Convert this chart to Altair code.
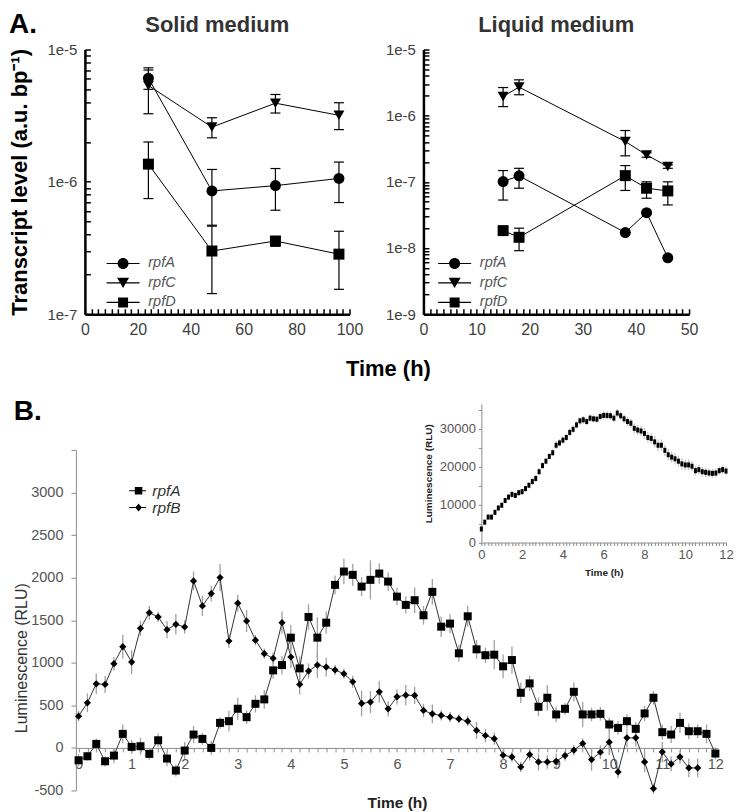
import math
import altair as alt
import pandas as pd

FONT = "Liberation Sans"

# ---------------- Panel A data (transcript levels) ----------------
genes_A = ["rpfA", "rpfC", "rpfD"]

solid_time = [24, 48, 72, 96]
solid_rpfA = [6.07e-6, 8.53e-7, 9.36e-7, 1.06e-6]
solid_rpfA_lo = [5.0e-6, 4.7e-7, 6.1e-7, 6.97e-7]
solid_rpfA_hi = [7.27e-6, 1.24e-6, 1.26e-6, 1.41e-6]
solid_rpfC = [5.35e-6, 2.59e-6, 3.93e-6, 3.18e-6]
solid_rpfC_lo = [3.27e-6, 2.15e-6, 3.31e-6, 2.48e-6]
solid_rpfC_hi = [7.0e-6, 3.05e-6, 4.57e-6, 3.96e-6]
solid_rpfD = [1.36e-6, 3.0e-7, 3.57e-7, 2.84e-7]
solid_rpfD_lo = [7.47e-7, 1.43e-7, 3.26e-7, 1.54e-7]
solid_rpfD_hi = [2.0e-6, 4.62e-7, 3.8e-7, 4.23e-7]

liquid_time = [15, 18, 38, 42, 46]
liquid_rpfA = [1.01e-7, 1.23e-7, 1.71e-8, 3.42e-8, 7.1e-9]
liquid_rpfA_lo = [5.3e-8, 8.0e-8, 1.71e-8, 3.42e-8, 7.1e-9]
liquid_rpfA_hi = [1.48e-7, 1.6e-7, 1.71e-8, 3.42e-8, 7.1e-9]
liquid_rpfC = [1.95e-6, 2.7e-6, 4.06e-7, 2.55e-7, 1.7e-7]
liquid_rpfC_lo = [1.37e-6, 2.07e-6, 2.47e-7, 2.35e-7, 1.6e-7]
liquid_rpfC_hi = [2.66e-6, 3.48e-6, 5.96e-7, 2.75e-7, 1.8e-7]
liquid_rpfD = [1.83e-8, 1.45e-8, 1.24e-7, 8.0e-8, 7.28e-8]
liquid_rpfD_lo = [1.7e-8, 9.1e-9, 7.4e-8, 5.65e-8, 4.47e-8]
liquid_rpfD_hi = [1.95e-8, 1.99e-8, 1.76e-7, 1.0e-7, 1.0e-7]

solid_ticks = [0, 20, 40, 60, 80, 100]
liquid_ticks = [0, 10, 20, 30, 40, 50]

# ---------------- Panel B data (luminescence) ----------------
time_B = [i / 6 for i in range(73)]
lum_rpfA = [-145, -98, 47, -157, -90, 165, 12, 20, -70, 90, -125, -266, -31, 157, 106, 0, 294, 314, 460, 361, 518,
            570, 911, 973, 1295, 934, 1538, 1295, 1471, 1915, 2072, 2033, 1895, 1974, 2048, 1954, 1777, 1680, 1735,
            1558, 1833, 1424, 1460, 1111, 1546, 1158, 1089, 1095,
            958, 1032, 647, 758, 483, 589, 393, 459, 659, 393, 393, 400, 275, 235, 314, 224, 405, 589, 185, 157, 294,
            196, 196, 165, -66]
err_rpfA = [70, 50, 60, 60, 90, 110, 80, 100, 70, 80, 90, 70, 100, 100, 70, 80, 70, 120, 130, 80, 100,
            110, 100, 110, 150, 140, 150, 240, 130, 110, 150, 130, 110, 230, 120, 110, 100, 100, 150, 110, 150, 120,
            110, 100, 120, 110, 90, 170,
            140, 160, 120, 90, 110, 150, 90, 70, 110, 150, 80, 80, 80, 80, 80, 80, 90, 80, 90, 100, 120, 90, 80, 110, 70]
lum_rpfB = [373, 530, 753, 746, 989, 1189, 1008, 1405, 1589, 1538, 1389, 1452, 1420, 1962, 1668, 1813, 2001, 1256,
            1700, 1491, 1266,
            1107, 1052, 1471, 1068, 746, 903, 973, 950, 915, 871, 777, 522, 538, 659, 459, 600, 620, 617, 440, 400,
            381, 361, 341, 314, 205, 146, 108,
            -86, -106, -224, -78, -165, -165, -157, -90, -27, 51, -137, -51, 67, -282, 118, 118, -165, -478, -47,
            -188, -106, -235, -235]
err_rpfB = [60, 110, 120, 100, 80, 140, 140, 90, 80, 60, 100, 120, 80, 110, 120, 90, 160, 80, 100, 130, 60,
            60, 70, 130, 130, 120, 90, 150, 110, 60, 60, 70, 150, 130, 130, 90, 90, 120, 100, 80, 110, 60, 60, 50,
            60, 100, 80, 70,
            60, 60, 60, 70, 100, 80, 90, 60, 60, 60, 130, 80, 150, 70, 110, 100, 120, 60, 120, 90, 80, 110, 110]

inset_lum = [3570, 5360, 6700, 6700, 7950, 9100, 9820, 11070, 11970, 12680,
             12410, 13130, 13400, 14200, 15090, 16070, 16880, 18660, 20270, 21430,
             22680, 23660, 25630, 26250, 26970, 27680, 29020, 29830, 30990, 32060,
             32330, 31880, 32770, 32600, 32500, 33220, 33490, 33490, 33400, 32770,
             34110, 33400, 32600, 31880, 31430, 30090, 29650, 29380, 28750, 27680,
             27420, 26520, 25630, 25630, 24290, 23130, 22500, 22060, 21430, 20720,
             20450, 20450, 20090, 18930, 19200, 18660, 18490, 18310, 18220, 18310,
             18930, 19200, 18840]
inset_err = ([500, 600, 600, 600, 700, 700, 700, 700, 800, 800,
              800, 800, 800, 800, 800, 900, 900, 900, 900, 900, 900, 900]
             + [1000] * 14 + [1100] * 6 + [1200] * 3 + [1300] * 3 + [1400] * 3 + [1500] * 9
             + [1400] * 3 + [1300] * 3 + [1200] * 4 + [1100] * 3)


def a_frame(times, series):
    rows = []
    for gene, (vals, los, his) in series.items():
        for t, v, lo, hi in zip(times, vals, los, his):
            rows.append({"time": t, "gene": gene, "val": v, "lo": lo, "hi": hi})
    return pd.DataFrame(rows)


df_solid = a_frame(solid_time, {"rpfA": (solid_rpfA, solid_rpfA_lo, solid_rpfA_hi),
                                "rpfC": (solid_rpfC, solid_rpfC_lo, solid_rpfC_hi),
                                "rpfD": (solid_rpfD, solid_rpfD_lo, solid_rpfD_hi)})
df_liquid = a_frame(liquid_time, {"rpfA": (liquid_rpfA, liquid_rpfA_lo, liquid_rpfA_hi),
                                  "rpfC": (liquid_rpfC, liquid_rpfC_lo, liquid_rpfC_hi),
                                  "rpfD": (liquid_rpfD, liquid_rpfD_lo, liquid_rpfD_hi)})

rows_B = []
for t, v, e in zip(time_B, lum_rpfA, err_rpfA):
    rows_B.append({"time": t, "gene": "rpfA", "val": v, "err": e})
for t, v, e in zip(time_B, lum_rpfB, err_rpfB):
    rows_B.append({"time": t, "gene": "rpfB", "val": v, "err": e})
df_B = pd.DataFrame(rows_B)
df_inset = pd.DataFrame({"time": time_B, "val": inset_lum, "err": inset_err})

# legend symbols: a short line with the marker on it (custom SVG paths)
LINE_A = "M-2.36,-0.08H2.36V0.08H-2.36Z"
CIRC_A = "M0.786,0A0.786,0.786 0 1,1 -0.786,0A0.786,0.786 0 1,1 0.786,0Z"
TRI_A = "M-0.857,-0.743L0.857,-0.743L0,0.743Z"
SQ_A = "M-0.714,-0.714H0.714V0.714H-0.714Z"
paths_A = [LINE_A + CIRC_A, LINE_A + TRI_A, LINE_A + SQ_A]

LINE_B = "M-1.7,-0.1H1.7V0.1H-1.7Z"
SQ_B = "M-0.55,-0.75H0.95V0.75H-0.55Z"
DIA_B = "M0.2,-0.8L0.85,0L0.2,0.8L-0.45,0Z"
paths_B = [LINE_B + SQ_B, LINE_B + DIA_B]

H_A = 265
MANY = 500
TICK_LEN = 5.5
# short inward tick marks: grid lines of which only the part next to the axis is drawn
GRID_X = dict(grid=True, gridColor="black", gridWidth=1.5, gridOpacity=1,
              gridDash=[0, H_A - TICK_LEN, TICK_LEN, 4000])
GRID_Y = dict(grid=True, gridColor="black", gridWidth=1.5, gridOpacity=1, gridDash=[TICK_LEN, 4000])


def panel_a(df, xmax, xlabels, ydom, title, ytitle, legend_x, width):
    xs = alt.Scale(domain=[0, xmax], nice=False, zero=False)
    ys = alt.Scale(type="log", domain=ydom, nice=False)
    e_lo, e_hi = [round(math.log10(d)) for d in ydom]
    yminor = [m * 10.0 ** e for e in range(e_lo, e_hi) for m in range(1, 10)] + [10.0 ** e_hi]
    step = xlabels[1]
    xminor = [step / 8 * i for i in range(41)]
    ykw = dict(values=yminor, tickCount=MANY, ticks=False,
               labelExpr="abs(log(datum.value) / LN10 - round(log(datum.value) / LN10)) < 0.001 ? "
                         "'1e-' + round(-log(datum.value) / LN10) : ''",
               domainColor="black", domainWidth=2.5, labelFontSize=15, labelColor="#404040",
               labelPadding=8, labelOverlap=False, **GRID_Y)
    if ytitle:
        yaxis = alt.Axis(title=ytitle, titleFontSize=22, titleFontWeight="bold", titleColor="black",
                         titlePadding=15, **ykw)
    else:
        yaxis = alt.Axis(title=None, **ykw)
    xaxis = alt.Axis(values=xminor, tickCount=MANY, ticks=False, domainColor="black", domainWidth=2.5,
                     labelExpr=f"abs(datum.value / {step} - round(datum.value / {step})) < 0.001 ? "
                               "'' + datum.value : ''",
                     labelFontSize=16, labelColor="#404040", labelPadding=7, title=None,
                     labelFlush=False, labelOverlap=False, **GRID_X)
    base = alt.Chart(df)
    rule = base.mark_rule(color="black", strokeWidth=1.2).encode(
        x=alt.X("time:Q", scale=xs), y=alt.Y("lo:Q", scale=ys), y2="hi:Q")
    cap_lo = base.mark_tick(orient="horizontal", size=10, thickness=1.2, color="black", opacity=1).encode(
        x=alt.X("time:Q", scale=xs), y=alt.Y("lo:Q", scale=ys))
    cap_hi = base.mark_tick(orient="horizontal", size=10, thickness=1.2, color="black", opacity=1).encode(
        x=alt.X("time:Q", scale=xs), y=alt.Y("hi:Q", scale=ys))
    line = base.mark_line(color="black", strokeWidth=1).encode(
        x=alt.X("time:Q", scale=xs, axis=xaxis), y=alt.Y("val:Q", scale=ys, axis=yaxis), detail="gene:N")
    pts = base.mark_point(filled=True, color="black", opacity=1, size=121).encode(
        x=alt.X("time:Q", scale=xs), y=alt.Y("val:Q", scale=ys),
        shape=alt.Shape("gene:N", scale=alt.Scale(domain=genes_A, range=["circle", "triangle-down", "square"]),
                        legend=None))
    leg = base.mark_point(filled=True, color="black", opacity=0).encode(
        x=alt.X("time:Q", scale=xs), y=alt.Y("val:Q", scale=ys),
        shape=alt.Shape("gene:N", scale=alt.Scale(domain=genes_A, range=paths_A),
                        legend=alt.Legend(title=None, orient="none", legendX=legend_x, legendY=207,
                                          labelFontStyle="italic", labelFontSize=14.5, labelColor="#555555",
                                          symbolSize=196, symbolFillColor="black", symbolStrokeColor="black",
                                          symbolStrokeWidth=0, symbolOpacity=1, labelOffset=18, rowPadding=4.5,
                                          padding=0)))
    return alt.layer(rule, cap_lo, cap_hi, line, pts, leg).resolve_scale(shape="independent").properties(
        width=width, height=H_A,
        title=alt.TitleParams(title, fontSize=22, fontWeight="bold", color="#333333", offset=6))


a_left = panel_a(df_solid, 100, solid_ticks, [1e-7, 1e-5], "Solid medium", "Transcript level (a.u. bp\u207b\u00b9)",
                 31, 265)
a_right = panel_a(df_liquid, 50, liquid_ticks, [1e-9, 1e-5], "Liquid medium", None, 24, 266)

row_a = alt.hconcat(a_left, a_right, spacing=21).resolve_scale(shape="independent").resolve_legend(
    shape="independent").properties(
    title=alt.TitleParams("Time (h)", orient="bottom", anchor="middle", fontSize=22, fontWeight="bold",
                          color="black", offset=22, dx=35))

# ---------------- Panel B ----------------
W_B, H_B = 634, 341
y0_px = 3500 / 4000 * H_B
xsB = alt.Scale(domain=[-0.05, 12.05], range=[-9, W_B], nice=False, zero=False)
ysB = alt.Scale(domain=[-500, 3500], nice=False, zero=False)
tick_vals_B = [i / 6 for i in range(73)]

xaxisB = alt.Axis(orient="bottom", offset=-(H_B - y0_px), values=tick_vals_B, tickCount=MANY,
                  labelExpr="abs(datum.value - round(datum.value)) < 0.001 ? '' + round(datum.value) : ''",
                  labelOverlap=False, labelFlush=False, tickSize=4, tickColor="#8c8c8c", domainColor="#8c8c8c",
                  labelColor="#555555", labelFontSize=14.5, labelPadding=6, grid=False,
                  title="Time (h)", titleFontSize=15.5, titleFontWeight="bold", titleColor="#222222",
                  titlePadding=24)
yaxisB = alt.Axis(values=list(range(-500, 3501, 500)), tickCount=MANY, offset=9,
                  labelExpr="datum.value == 3500 ? '' : '' + datum.value", labelOverlap=False,
                  tickSize=5, tickColor="#8c8c8c", domainColor="#8c8c8c", labelColor="#555555",
                  labelFontSize=14.5, labelPadding=8, grid=False,
                  title="Luminescence (RLU)", titleFontSize=16, titleFontWeight="normal", titleColor="#333333",
                  titlePadding=1, titleY=208)

baseB = alt.Chart(df_B).transform_calculate(lo="datum.val - datum.err", hi="datum.val + datum.err")
rulesB = baseB.mark_rule(color="#a0a0a0", strokeWidth=1.3).encode(
    x=alt.X("time:Q", scale=xsB), y=alt.Y("lo:Q", scale=ysB), y2="hi:Q")
lineB = baseB.mark_line(color="#333333", strokeWidth=1).encode(
    x=alt.X("time:Q", scale=xsB, axis=xaxisB), y=alt.Y("val:Q", scale=ysB, axis=yaxisB), detail="gene:N")
ptsA_B = baseB.transform_filter("datum.gene == 'rpfA'").mark_point(
    shape="square", filled=True, size=64, color="black", opacity=1).encode(
    x=alt.X("time:Q", scale=xsB), y=alt.Y("val:Q", scale=ysB))
ptsB_B = baseB.transform_filter("datum.gene == 'rpfB'").mark_point(
    shape="diamond", filled=True, size=52, color="black", opacity=1).encode(
    x=alt.X("time:Q", scale=xsB), y=alt.Y("val:Q", scale=ysB))
legB = baseB.mark_point(filled=True, color="black", opacity=0).encode(
    x=alt.X("time:Q", scale=xsB), y=alt.Y("val:Q", scale=ysB),
    shape=alt.Shape("gene:N", scale=alt.Scale(domain=["rpfA", "rpfB"], range=paths_B),
                    legend=alt.Legend(title=None, orient="none", legendX=45, legendY=33, labelFontStyle="italic",
                                      labelFontSize=15.5, labelColor="#333333", symbolSize=100,
                                      symbolFillColor="black", symbolStrokeColor="black", symbolStrokeWidth=0,
                                      symbolOpacity=1, labelOffset=7, rowPadding=-1, padding=0)))
main_B = alt.layer(rulesB, lineB, ptsA_B, ptsB_B, legB)

# inset (own scales, placed inside panel B)
ix0, ix1 = 397, 642
iy0, iy1 = 92.7, -46
xsI = alt.Scale(domain=[0, 12], range=[ix0, ix1], nice=False, zero=False)
ysI = alt.Scale(domain=[0, 36500], range=[iy0, iy1], nice=False, zero=False)
xaxisI = alt.Axis(orient="bottom", offset=-(H_B - iy0), values=tick_vals_B, tickCount=MANY,
                  labelExpr="abs(datum.value / 2 - round(datum.value / 2)) < 0.001 ? '' + round(datum.value) : ''",
                  labelOverlap=False, labelFlush=False, tickSize=3, tickColor="#8c8c8c", domainColor="#8c8c8c",
                  labelColor="#555555", labelFontSize=13, labelPadding=3, grid=False,
                  title="Time (h)", titleFontSize=10, titleFontWeight="bold", titleColor="#222222", titlePadding=6)
yaxisI = alt.Axis(orient="left", offset=-ix0, values=list(range(0, 35001, 5000)), tickCount=MANY,
                  labelExpr="datum.value % 10000 == 0 ? '' + datum.value : ''",
                  labelOverlap=False, tickSize=3, tickColor="#8c8c8c", domainColor="#8c8c8c",
                  labelColor="#555555", labelFontSize=13, labelPadding=3, grid=False,
                  title="Luminescence (RLU)", titleFontSize=10, titleFontWeight="bold", titleColor="#222222",
                  titlePadding=6)
baseI = alt.Chart(df_inset).transform_calculate(lo="datum.val - datum.err", hi="datum.val + datum.err")
rulesI = baseI.mark_rule(color="#c4c4c4", strokeWidth=1.2).encode(
    x=alt.X("time:Q", scale=xsI, axis=xaxisI), y=alt.Y("lo:Q", scale=ysI, axis=yaxisI), y2="hi:Q")
ptsI = baseI.mark_tick(orient="vertical", size=5, thickness=3, color="black", opacity=1).encode(
    x=alt.X("time:Q", scale=xsI), y=alt.Y("val:Q", scale=ysI))
inset = alt.layer(rulesI, ptsI)

panel_b = alt.layer(main_B, inset).resolve_scale(x="independent", y="independent").properties(
    width=W_B, height=H_B,
    title=alt.TitleParams("B.", anchor="start", fontSize=28, fontWeight="bold", color="black", offset=-22))

chart = alt.vconcat(row_a, panel_b, spacing=17).resolve_scale(shape="independent").resolve_legend(
    shape="independent").properties(
    title=alt.TitleParams("A.", anchor="start", fontSize=28, fontWeight="bold", color="black", offset=-25),
    padding={"top": 2, "left": 0, "right": 0, "bottom": 0})
chart = chart.configure(font=FONT).configure_view(stroke=None)

chart.save("out.html", embed_options={"renderer": "svg", "actions": False})
